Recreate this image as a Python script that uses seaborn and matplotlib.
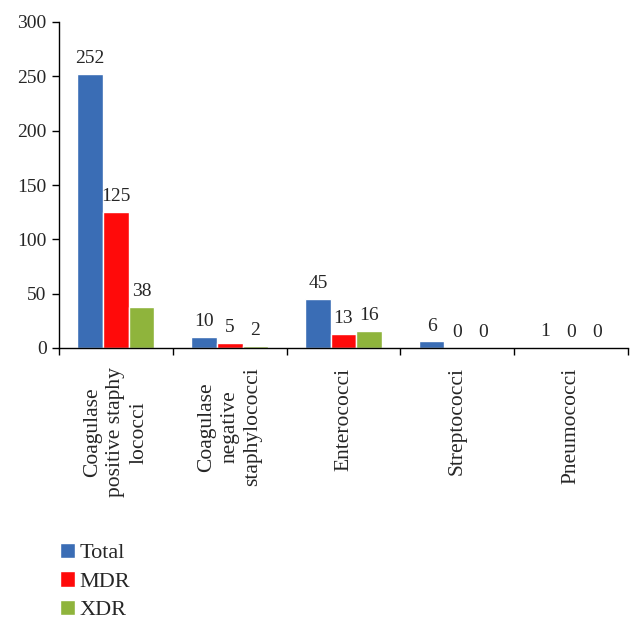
import matplotlib
matplotlib.use("Agg")
import matplotlib.pyplot as plt
import seaborn as sns
import pandas as pd

categories = ["Coagulase\npositive staphy\nlococci", "Coagulase\nnegative\nstaphylococci",
              "Enterococci", "Streptococci", "Pneumococci"]
series = ["Total", "MDR", "XDR"]
total = [252, 10, 45, 6, 1]
mdr = [125, 5, 13, 0, 0]
xdr = [38, 2, 16, 0, 0]
colors = ["#3a6db5", "#ff0a0a", "#8fb43c"]

rows = []
for s, vals in zip(series, [total, mdr, xdr]):
    for c, v in zip(categories, vals):
        rows.append({"cat": c, "series": s, "value": v})
df = pd.DataFrame(rows)

sns.set_style("white")
plt.rcParams["font.family"] = ["Liberation Serif", "DejaVu Serif"]

fig = plt.figure(figsize=(6.42, 6.27), dpi=100)
ax = fig.add_axes([59/642, 1-348/627, (628-59)/642, (348-22)/627])

sns.barplot(data=df, x="cat", y="value", hue="series", palette=colors,
            width=0.675, ax=ax, saturation=1, legend=True)

for cont in ax.containers:
    ax.bar_label(cont, padding=5, fontsize=14)

ax.set_ylim(0, 300)
ax.set_yticks(range(0, 301, 50))
ax.set_xlim(-0.5, 4.5)
ax.set_xticks([i - 0.5 for i in range(6)])
ax.set_xticklabels([""] * 6)
ax.set_xticks(range(5), minor=True)
ax.set_xticklabels(categories, minor=True, rotation=90, fontsize=15.5,
                   multialignment="center", linespacing=1.3)
ax.tick_params(axis="x", which="minor", length=0, pad=14)
ax.tick_params(axis="x", which="major", length=5, width=1, direction="out", color="black")
ax.tick_params(axis="y", length=5, width=1, direction="out", color="black", labelsize=14, pad=4)
ax.tick_params(axis="both", which="both", bottom=True, left=True)
ax.set_xlabel("")
ax.set_ylabel("")
for side in ["top", "right"]:
    ax.spines[side].set_visible(False)
for side in ["left", "bottom"]:
    ax.spines[side].set_color("black")
    ax.spines[side].set_linewidth(1)

leg = ax.get_legend()
handles = leg.legend_handles
labels = [t.get_text() for t in leg.get_texts()]
leg.remove()
fig.legend(handles, labels, loc="upper left", bbox_to_anchor=(44/642, 1-527/627),
           frameon=False, fontsize=16, handlelength=0.7, handleheight=0.7,
           labelspacing=0.36, handletextpad=0.2, borderpad=0.2)

fig.savefig("out.png", dpi=100)
